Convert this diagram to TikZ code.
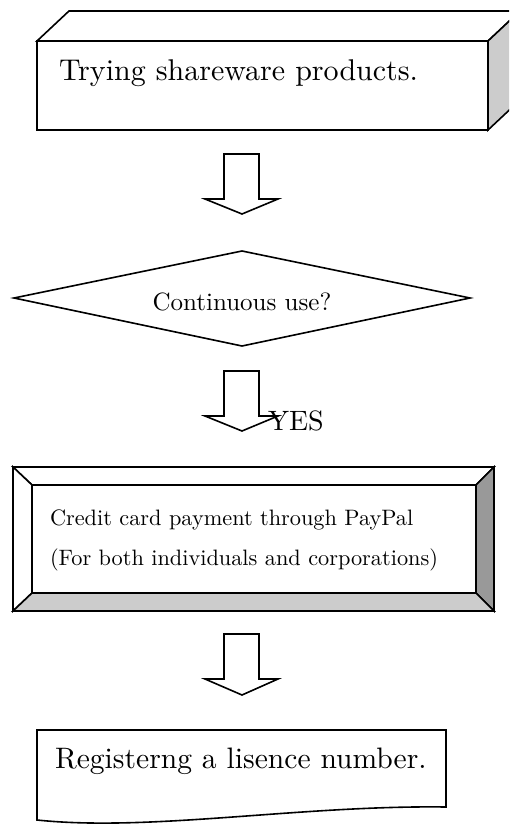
\documentclass[tikz,border=0pt]{standalone}
\usepackage{fontspec}
\setmainfont{lmroman10-regular.otf}
\begin{document}
\begin{tikzpicture}[x=1pt,y=-1pt,
  shp/.style={draw=black,line width=1.6pt,line join=miter},
  lbl/.style={inner sep=0pt,outer sep=0pt,text=black}]
\useasboundingbox (0,0) rectangle (509,826);
\clip (0,0) rectangle (509,826);
\fill[white] (0,0) rectangle (509,826);

% --- cube box ---
\coordinate (cA) at (37,41);
\coordinate (cB) at (488,41);
\coordinate (cC) at (488,130);
\coordinate (cD) at (37,130);
\draw[shp,fill=white] (cA) -- ++(32,-30) -- ++(451,0) -- (cB) -- cycle;
\draw[shp,fill=black!20] (cB) -- ++(32,-30) -- ++(0,89) -- (cC) -- cycle;
\draw[shp,fill=white] (cA) rectangle (cC);
\node[lbl,anchor=base west,font=\fontsize{30}{36}\selectfont] (t1) at (59,81) {Trying shareware products.};

% --- block arrow as a path ---
\newcommand{\blockarrow}[2]{%
  \draw[shp,fill=white] (224,#1) -- (259,#1) -- (259,#1+45) -- (278,#1+45)
    -- (242,#2) -- (205,#1+45) -- (224,#1+45) -- cycle;}
\blockarrow{154}{214}

% --- diamond ---
\coordinate (dL) at (14,298);
\coordinate (dT) at (242,251);
\coordinate (dR) at (470,298);
\coordinate (dB) at (242,346);
\draw[shp,fill=white] (dL) -- (dT) -- (dR) -- (dB) -- cycle;
\node[lbl,anchor=base,font=\fontsize{25}{30}\selectfont] (t2) at (242,310) {Continuous use?};

\blockarrow{371}{431}
\node[lbl,anchor=base west,font=\fontsize{28}{33}\selectfont] (yes) at (268,430) {YES};

% --- bevel box ---
\coordinate (oA) at (13,467);
\coordinate (oB) at (494,467);
\coordinate (oC) at (494,611);
\coordinate (oD) at (13,611);
\coordinate (iA) at (32,485);
\coordinate (iB) at (476,485);
\coordinate (iC) at (476,593);
\coordinate (iD) at (32,593);
\draw[shp,fill=white] (oA) -- (oB) -- (iB) -- (iA) -- cycle;
\draw[shp,fill=white] (oA) -- (iA) -- (iD) -- (oD) -- cycle;
\draw[shp,fill=black!40] (oB) -- (oC) -- (iC) -- (iB) -- cycle;
\draw[shp,fill=black!20] (oD) -- (iD) -- (iC) -- (oC) -- cycle;
\draw[shp,fill=white] (iA) rectangle (iC);
\draw[shp] (oA) rectangle (oC);
\node[lbl,anchor=base west,font=\fontsize{22.3}{26}\selectfont] (t3) at (50,525) {Credit card payment through PayPal};
\node[lbl,anchor=base west,font=\fontsize{22.3}{26}\selectfont] (t4) at (50,565) {(For both individuals and corporations)};

\blockarrow{634}{695}

% --- document shape ---
\coordinate (gA) at (37,730);
\coordinate (gB) at (446,730);
\coordinate (gC) at (446,807);
\coordinate (gD) at (37,820);
\draw[shp,fill=white] (gA) -- (gB) -- (gC) .. controls (300,805) and (150,832) .. (gD) -- cycle;
\node[lbl,anchor=base west,font=\fontsize{29.6}{35}\selectfont] (t5) at (55,768) {Registerng a lisence number.};
\end{tikzpicture}
\end{document}
